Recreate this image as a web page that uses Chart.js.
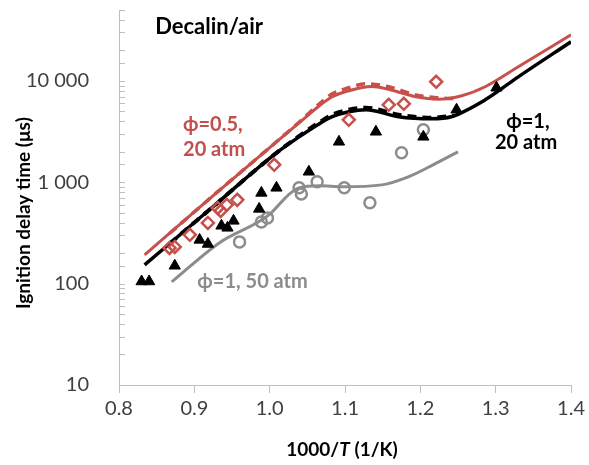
<!DOCTYPE html>
<html>
<head>
<meta charset="utf-8">
<script src="https://cdn.jsdelivr.net/npm/chart.js@4.4.1/dist/chart.umd.min.js"></script>
<style>
html, body { margin: 0; padding: 0; background: #fff; }
</style>
</head>
<body>
<canvas id="chart" width="589" height="465"></canvas>
<script>
// model curves (x = 1000/T, y = ignition delay in us)
var redX = [0.834, 0.920, 1.009, 1.039, 1.066, 1.083, 1.105, 1.135, 1.160, 1.194, 1.224, 1.255, 1.286, 1.330, 1.400];
var redY = [192, 686, 2506, 3855, 5680, 6970, 7990, 8800, 8170, 6970, 6600, 7130, 8750, 13770, 28500];
var redDashX = [0.867, 0.920, 1.009, 1.039, 1.066, 1.083, 1.105, 1.128, 1.158, 1.194, 1.224, 1.250];
var redDashY = [312, 686, 2506, 3900, 5940, 7460, 8550, 9360, 8750, 7250, 6800, 6650];
var blackX = [0.834, 0.920, 1.009, 1.039, 1.066, 1.083, 1.105, 1.128, 1.171, 1.215, 1.241, 1.286, 1.330, 1.400];
var blackY = [153, 535, 1950, 2800, 3780, 4430, 4960, 5190, 4430, 4230, 4430, 6500, 10960, 24300];
var blackDashX = [0.867, 0.920, 1.009, 1.039, 1.066, 1.083, 1.105, 1.128, 1.171, 1.215, 1.245];
var blackDashY = [247, 535, 1950, 2850, 3900, 4630, 5190, 5430, 4630, 4330, 4530];
var grayX = [0.870, 0.933, 0.999, 1.025, 1.039, 1.066, 1.096, 1.149, 1.184, 1.217, 1.250];
var grayY = [104, 252, 476, 752, 881, 921, 901, 942, 1130, 1486, 1995];

// measurements
var triX = [0.830, 0.840, 0.874, 0.907, 0.918, 0.936, 0.944, 0.952, 0.986, 0.989, 1.009, 1.052, 1.092, 1.141, 1.204, 1.248, 1.301];
var triY = [105, 105, 150, 270, 246, 372, 355, 416, 546, 785, 881, 1268, 2505, 3145, 2806, 5190, 8550];
var diaX = [0.867, 0.874, 0.894, 0.918, 0.931, 0.935, 0.943, 0.957, 1.006, 1.105, 1.158, 1.178, 1.221];
var diaY = [225, 230, 303, 397, 558, 522, 599, 670, 1486, 4130, 5800, 5940, 9800];
var cirX = [0.960, 0.989, 0.997, 1.039, 1.042, 1.063, 1.099, 1.133, 1.175, 1.204];
var cirY = [258, 406, 445, 881, 767, 1009, 881, 627, 1950, 3290];

var yMajor = [10, 100, 1000, 10000];

// text notes, anchored at data coordinates
var noteText = ["Decalin/air", "\u03d5=0.5,", "20 atm", "\u03d5=1,", "20 atm", "\u03d5=1, 50 atm"];
var noteX = [0.848, 0.885, 0.885, 1.314, 1.299, 0.904];
var noteY = [34200, 3690, 2090, 3940, 2450, 104];
var noteColor = ["#000000", "#c0504d", "#c0504d", "#000000", "#000000", "#8c8c8c"];
var noteSize = [22, 20, 20, 20, 20, 20];

var RED = "#c8504b", GRAY = "#8c8c8c";
var FONT = "Lato, 'Open Sans', sans-serif";

function pts(xs, ys) {
    var out = [];
    for (var i = 0; i < xs.length; i++) out.push({x: xs[i], y: ys[i]});
    return out;
}

function curve(xs, ys, color, width, dash) {
    return {
        data: pts(xs, ys), showLine: true, pointRadius: 0,
        borderColor: color, borderWidth: width, borderDash: dash || [],
        cubicInterpolationMode: "monotone", fill: false
    };
}

var decor = {
    id: "decor",
    afterDraw: function(chart) {
        var ctx = chart.ctx, xs = chart.scales.x, ys = chart.scales.y, a = chart.chartArea;
        ctx.save();
        // y ticks point into the plot
        ctx.strokeStyle = "#bfbfbf";
        ctx.lineWidth = 1;
        ys.ticks.forEach(function(t) {
            var py = Math.round(ys.getPixelForValue(t.value)) + 0.5;
            ctx.beginPath();
            ctx.moveTo(a.left, py);
            ctx.lineTo(a.left + 6, py);
            ctx.stroke();
        });
        // notes
        ctx.textBaseline = "middle";
        ctx.textAlign = "left";
        for (var i = 0; i < noteText.length; i++) {
            ctx.font = "bold " + noteSize[i] + "px " + FONT;
            ctx.fillStyle = noteColor[i];
            ctx.fillText(noteText[i], xs.getPixelForValue(noteX[i]), ys.getPixelForValue(noteY[i]));
        }
        // y title
        ctx.fillStyle = "#000";
        ctx.font = "bold 19px " + FONT;
        ctx.save();
        ctx.translate(24, 213);
        ctx.rotate(-Math.PI / 2);
        ctx.textAlign = "center";
        ctx.fillText("Ignition delay time (\u03bcs)", 0, 0);
        ctx.restore();
        // x title with italic T
        var parts = [["1000/", "bold 19px "], ["T", "italic bold 19px "], [" (1/K)", "bold 19px "]];
        var total = 0;
        parts.forEach(function(p) { ctx.font = p[1] + FONT; total += ctx.measureText(p[0]).width; });
        var x0 = (a.left + a.right) / 2 - total / 2 - 3;
        parts.forEach(function(p) {
            ctx.font = p[1] + FONT;
            ctx.fillText(p[0], x0, 450);
            x0 += ctx.measureText(p[0]).width;
        });
        ctx.restore();
    }
};

new Chart(document.getElementById("chart"), {
    type: "scatter",
    data: {
        datasets: [
            {data: pts(triX, triY), pointStyle: "triangle", pointRadius: 6.5, backgroundColor: "#000", borderColor: "#000", borderWidth: 1},
            {data: pts(diaX, diaY), pointStyle: "rectRot", pointRadius: 6, backgroundColor: "rgba(255,255,255,0)", borderColor: RED, borderWidth: 2.5},
            {data: pts(cirX, cirY), pointStyle: "circle", pointRadius: 5.5, backgroundColor: "rgba(255,255,255,0)", borderColor: GRAY, borderWidth: 2.5},
            curve(redDashX, redDashY, RED, 3.5, [9, 6]),
            curve(blackDashX, blackDashY, "#000", 4, [9, 6]),
            curve(redX, redY, RED, 3),
            curve(blackX, blackY, "#000", 3.5),
            curve(grayX, grayY, GRAY, 3)
        ]
    },
    options: {
        responsive: false,
        animation: false,
        layout: {padding: {top: 10, right: 16, left: 0, bottom: 0}},
        plugins: {legend: {display: false}, tooltip: {enabled: false}},
        scales: {
            x: {
                type: "linear", min: 0.8, max: 1.4,
                afterFit: function(s) { s.height = 80; },
                ticks: {
                    stepSize: 0.1, padding: 4, color: "#404040",
                    font: {family: FONT, size: 20},
                    callback: function(v) { return v.toFixed(1); }
                },
                grid: {drawOnChartArea: false, tickLength: 8, color: "#bfbfbf"},
                border: {color: "#bfbfbf", width: 1}
            },
            y: {
                type: "logarithmic", min: 10, max: 50000,
                afterFit: function(s) { s.width = 119; s.paddingTop = 0; s.paddingBottom = 0; },
                ticks: {
                    padding: 22, color: "#404040", autoSkip: false,
                    font: {family: FONT, size: 20},
                    callback: function(v) {
                        if (yMajor.indexOf(v) < 0) return "";
                        return String(v).replace(/\B(?=(\d{3})+(?!\d))/g, " ");
                    }
                },
                grid: {display: false},
                border: {color: "#bfbfbf", width: 1}
            }
        }
    },
    plugins: [decor]
});
</script>
</body>
</html>
